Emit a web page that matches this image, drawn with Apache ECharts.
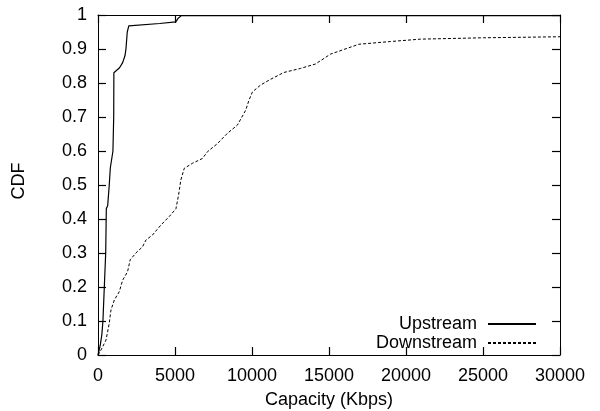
<!DOCTYPE html>
<html>
<head>
<meta charset="utf-8">
<script src="https://cdn.jsdelivr.net/npm/echarts@6/dist/echarts.min.js"></script>
<style>html,body{margin:0;padding:0;background:#fff;}#c{width:600px;height:411px;}</style>
</head>
<body>
<div id="c"></div>
<script>
// Upstream CDF (capacity in Kbps, cumulative fraction)
const upstreamX = [0, 150, 250, 320, 410, 500, 540, 630, 730, 800, 970, 1020, 1030, 1150, 1400, 1600, 1750, 1815, 1900, 2000, 2090, 4000, 5050, 5200, 5400, 30000];
const upstreamY = [0, 0.03, 0.06, 0.1, 0.2, 0.3, 0.43, 0.44, 0.5, 0.55, 0.6, 0.7, 0.83, 0.835, 0.845, 0.86, 0.88, 0.9, 0.95, 0.968, 0.972, 0.975, 0.98, 0.99, 0.998, 0.998];
// Downstream CDF
const downstreamX = [0, 200, 520, 730, 840, 1060, 1380, 1600, 1920, 2090, 2460, 2890, 3110, 3540, 4080, 4620, 5060, 5230, 5380, 5600, 6140, 6780, 7110, 7760, 8400, 9050, 9590, 9810, 10030, 10560, 11210, 12070, 13160, 14130, 15100, 16180, 16940, 19000, 20940, 25030, 30000];
const downstreamY = [0, 0.015, 0.044, 0.093, 0.132, 0.162, 0.186, 0.22, 0.245, 0.28, 0.30, 0.318, 0.338, 0.353, 0.382, 0.407, 0.43, 0.47, 0.515, 0.549, 0.564, 0.578, 0.598, 0.622, 0.652, 0.676, 0.72, 0.75, 0.774, 0.794, 0.811, 0.831, 0.843, 0.856, 0.885, 0.902, 0.914, 0.922, 0.929, 0.933, 0.936];
const seriesNames = ['Upstream', 'Downstream'];
const xTitle = 'Capacity (Kbps)';
const yTitle = 'CDF';

const font = "'Liberation Sans', Arial, Helvetica, sans-serif";
const pair = (xs, ys) => xs.map((x, i) => [x, ys[i]]);

function axLine() { return { show: true, onZero: false, lineStyle: { color: '#000', width: 1 } }; }
function axTick() { return { show: true, inside: true, length: 8, lineStyle: { color: '#000', width: 1.2 } }; }

const chart = echarts.init(document.getElementById('c'), null, { renderer: 'canvas' });
chart.setOption({
  animation: false,
  backgroundColor: '#fff',
  grid: { left: 98, right: 40, top: 15, bottom: 56, containLabel: false, outerBoundsMode: 'none' },
  legend: {
    orient: 'vertical', right: 58, top: 310, align: 'right',
    itemWidth: 48, itemHeight: 14, itemGap: 1,
    itemStyle: { opacity: 0 },
    textStyle: { fontFamily: font, fontSize: 18, color: '#000', padding: [0, 6, 0, 0] },
    data: seriesNames
  },
  xAxis: [
    { type: 'value', min: 0, max: 30000, interval: 5000, position: 'bottom',
      name: xTitle, nameLocation: 'middle', nameGap: 36,
      nameTextStyle: { fontFamily: font, fontSize: 18, color: '#000' },
      axisLine: axLine(), axisTick: axTick(), splitLine: { show: false },
      axisLabel: { fontFamily: font, fontSize: 18, color: '#000', margin: 12, formatter: v => String(v) } },
    { type: 'value', min: 0, max: 30000, interval: 5000, position: 'top',
      axisLine: axLine(), axisTick: axTick(), splitLine: { show: false }, axisLabel: { show: false } }
  ],
  yAxis: [
    { type: 'value', min: 0, max: 1, interval: 0.1, position: 'left',
      name: yTitle, nameLocation: 'middle', nameGap: 70,
      nameTextStyle: { fontFamily: font, fontSize: 18, color: '#000', padding: [0, 0, 0, 8] },
      axisLine: axLine(), axisTick: axTick(), splitLine: { show: false },
      axisLabel: { fontFamily: font, fontSize: 18, color: '#000', margin: 11 } },
    { type: 'value', min: 0, max: 1, interval: 0.1, position: 'right',
      axisLine: axLine(), axisTick: axTick(), splitLine: { show: false }, axisLabel: { show: false } }
  ],
  series: [
    { name: seriesNames[0], type: 'line', data: pair(upstreamX, upstreamY), showSymbol: false, symbol: 'none',
      smooth: false, lineStyle: { color: '#000', width: 1.2, type: 'solid' }, itemStyle: { color: '#000' } },
    { name: seriesNames[1], type: 'line', data: pair(downstreamX, downstreamY), showSymbol: false, symbol: 'none',
      smooth: false, lineStyle: { color: '#000', width: 1, type: [3, 2] }, itemStyle: { color: '#000' } }
  ]
});
</script>
</body>
</html>
